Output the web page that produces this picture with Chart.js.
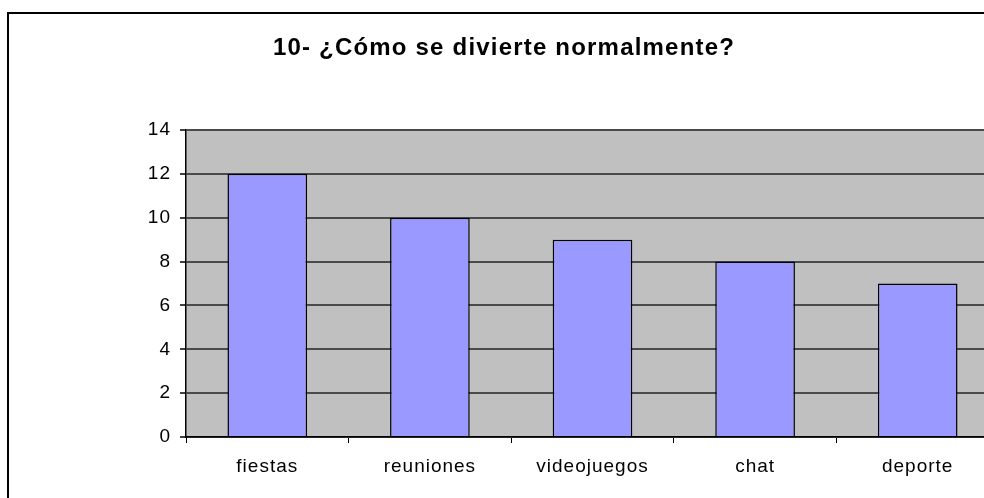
<!DOCTYPE html>
<html>
<head>
<meta charset="utf-8">
<script src="https://cdn.jsdelivr.net/npm/chart.js@4"></script>
<style>
    html, body { margin: 0; padding: 0; background: #fff; overflow: hidden; }
    #frame {
        position: absolute; left: 7px; top: 12px;
        width: 990px; height: 490px;
        border: 2px solid #000;
    }
</style>
</head>
<body>
<div id="frame"><canvas id="chart" width="990" height="490"></canvas></div>
<script>
const categories = ['fiestas', 'reuniones', 'videojuegos', 'chat', 'deporte'];
const counts = [12, 10, 9, 8, 7];
const yTicks = [0, 2, 4, 6, 8, 10, 12, 14];
const chartTitle = '10- ¿Cómo se divierte normalmente?';

const FONT = '"Liberation Sans", Arial, sans-serif';

// grey plot background + wider letter spacing like the original
const plotBackground = {
    id: 'plotBackground',
    beforeDraw(chart) {
        const { ctx, chartArea: a } = chart;
        ctx.save();
        ctx.fillStyle = '#c0c0c0';
        ctx.fillRect(a.left, a.top, a.right - a.left, a.bottom - a.top);
        ctx.restore();
        ctx.letterSpacing = '1px';
    }
};

// title drawn by hand so it can get its own spacing
const spacedTitle = {
    id: 'spacedTitle',
    afterDraw(chart) {
        const ctx = chart.ctx;
        ctx.save();
        ctx.letterSpacing = '1.2px';
        ctx.font = 'bold 24px ' + FONT;
        ctx.fillStyle = '#000';
        ctx.textAlign = 'center';
        ctx.textBaseline = 'alphabetic';
        ctx.fillText(chartTitle, 495, 41);
        ctx.restore();
    }
};

new Chart(document.getElementById('chart'), {
    type: 'bar',
    data: {
        labels: categories,
        datasets: [{
            data: counts,
            backgroundColor: '#9999ff',
            borderColor: '#000',
            borderWidth: 1.5,
            barPercentage: 0.49,
            categoryPercentage: 1
        }]
    },
    options: {
        responsive: false,
        animation: false,
        layout: { padding: { top: 116 } },
        plugins: {
            legend: { display: false },
            tooltip: { enabled: false },
            title: { display: false }
        },
        scales: {
            x: {
                afterFit: s => { s.height = 67; },
                grid: { offset: true, drawOnChartArea: false, drawTicks: true, tickLength: 6, color: '#000' },
                border: { display: true, color: '#000', width: 1.5 },
                ticks: {
                    color: '#000', padding: 12,
                    font: { family: FONT, size: 19 }
                }
            },
            y: {
                min: 0, max: 14,
                afterFit: s => { s.width = 177; },
                afterBuildTicks: s => { s.ticks = yTicks.map(v => ({ value: v })); },
                grid: { color: '#4a4a4a', lineWidth: 2, tickLength: 6, tickColor: '#000', tickWidth: 1.5 },
                border: { display: true, color: '#000', width: 1.5 },
                ticks: {
                    color: '#000', padding: 9,
                    font: { family: FONT, size: 19 }
                }
            }
        }
    },
    plugins: [plotBackground, spacedTitle]
});
</script>
</body>
</html>
